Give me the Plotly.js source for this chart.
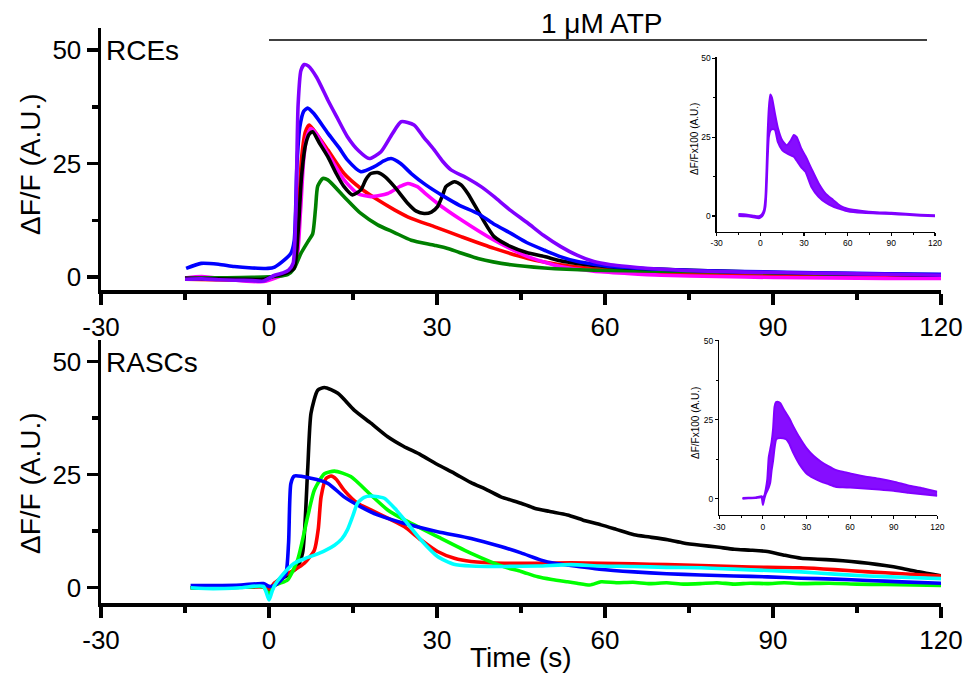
<!DOCTYPE html>
<html>
<head>
<meta charset="utf-8">
<script src="https://cdn.plot.ly/plotly-3.0.1.min.js"></script>
<style>html,body{margin:0;padding:0;background:#fff;}#chart{width:973px;height:677px;}</style>
</head>
<body>
<div id="chart"></div>
<script>
// ---------------- DATA ----------------
// Top panel (RCEs), time in s, dF/F (A.U.)
const rceBlackT = [-15,-10,-5,-1,1,3,4.5,5.2,5.8,6.5,7.2,7.8,9,10.5,12,13.4,14.9,16.4,17.3,18.2,19.4,20.8,22.4,24.8,26.3,27.7,29,30.1,31,31.6,33.1,34.3,35.5,37.9,40.2,43.2,46,49.2,52,55,60,64,70,80,90,100,110,120];
const rceBlackV = [-0.3,-0.4,-0.5,-0.5,0.2,0.8,2,10,22,29,31.5,32,29.5,26.5,22.8,19.9,18.1,19.2,21.5,22.8,23,22,19.9,16.2,14.5,14,14.3,15.5,18,19.9,21,20.3,18.4,13.3,8.9,6.7,5.4,4.5,3.6,3,2.3,2,1.7,1.3,1,0.8,0.6,0.4];

const rceRedT = [-15,-10,-5,-1,1,3,4.5,5.2,5.8,6.5,7.2,8.5,10.5,13.4,16.4,19.4,22.4,25.4,29.5,34.3,40.2,46.2,52,58,64,70,80,90,100,110,120];
const rceRedV = [-0.5,-0.6,-0.7,-0.9,0,0.8,2.5,12,26,32,33.5,31.5,28,22.8,19.5,17,14.8,12.9,11.1,8.9,6.3,4.1,2.7,1.8,1.3,1,0.6,0.4,0.2,0,-0.2];

const rceBlueT = [-14.8,-12.1,-9,-6.2,-3,-0.2,1,2.7,3.9,4.5,5,5.5,6.2,6.9,8,10.5,12.5,14,16.4,18.8,20.5,21.8,23.5,25.4,28,31.3,34,37.3,40,43.2,46,49.2,52,55.1,58,61,65,70,80,90,100,110,120];
const rceBlueV = [1.9,3.0,2.8,2.3,2.0,1.9,2.2,3.7,5.2,8,25,33,36.5,37.2,36,31.7,28.5,25.8,23.2,24.3,25.6,26.1,25,22.8,20.3,17.7,15.8,14,11.8,9.6,7.6,5.9,4.5,3.4,2.8,2.3,2,1.7,1.3,1.1,0.9,0.7,0.6];

const rceMagentaT = [-15,-12,-8,-4,-1,1,3,4.8,5.6,6.2,6.8,7.5,8.5,10.5,13.4,15.8,18.2,21.2,23.5,24.8,26.5,28,30.1,34.3,40.2,46.2,52,58,64,70,80,90,100,110,120];
const rceMagentaV = [-0.2,0.1,-0.4,-0.9,-1.0,-0.3,0.8,3,14,26,31,32.7,31.5,27.2,21.4,18.4,17.7,18.4,20,20.6,19.9,18.3,16.2,12.6,8.1,4.5,2.3,1.3,0.8,0.4,0.1,-0.1,-0.2,-0.3,-0.3];

const rceGreenT = [-15,-10,-5,-1,1,2.5,3.3,4.5,5.7,7.1,7.8,8.3,8.7,9.6,10.5,13.4,16.4,19.4,22.4,25.4,29.5,31.9,34,37.3,43.2,49.2,58,70,80,90,100,110,120];
const rceGreenV = [-0.3,-0.2,-0.1,0,0.1,0.3,0.5,1.9,5.2,8.1,9.5,15,20,21.7,21.4,17.7,14,11.5,9.8,8.1,7,6.3,5.4,4.1,2.7,2,1.5,1.3,1.1,0.9,0.7,0.6,0.5];

const rcePurpleT = [-15,-12,-9,-6,-3,-1,1,2.5,3.5,4.3,4.8,5.2,5.7,6.3,7,8.5,10.5,12,14,16,17.9,20,22,23.6,25.9,27.5,29.5,31,32.5,35.5,38,40.2,43,46.2,49,52.1,55,58,61,64,70,80,90,100,110,120];
const rcePurpleV = [-0.5,-0.4,-0.6,-0.7,-0.8,-0.9,0.4,0.9,1.5,3,15,38,45.5,46.8,46.5,44,39,35.5,30.9,27.8,26.1,27.6,31.5,34.2,33.5,31,28,25.5,23.6,21.7,19.8,17.7,14.8,11.9,9.2,6.7,4.8,3.4,2.7,2.3,1.7,1.2,1,0.8,0.6,0.4];

// Bottom panel (RASCs)
const rascBlackT = [-14,-10,-5,-1,0,1,3,5,6,6.9,7.5,8.7,9.9,12.3,15.2,18.2,21.2,24,27.1,30,33.1,36,39,41.4,45,47.4,50,53.3,56,59.3,62,65.2,68,71.2,74,77.1,80,83.1,86,89,92,95,98,101,104,107,110,112.9,116,120];
const rascBlackV = [0,0,0.1,0.2,-0.5,1,2.5,4.5,7.7,26,38.6,43.7,44.3,43,39.3,36.4,33.4,31.3,29.4,27.3,25.3,23.3,21.6,20.1,18.7,17.6,16.9,16.1,15,13.9,12.9,11.7,11.2,10.6,9.9,9.4,9,8.5,8.3,8,7.2,6.5,6.3,6.1,5.8,5.4,4.9,4.3,3.5,2.6];

const rascRedT = [-14,-10,-5,-1,0,1,2.5,4.5,6.3,8.1,8.8,9.3,10.2,11.1,12,13.4,15.8,18.2,21.2,24.2,27.1,30.1,33.1,36.1,42,48,53.9,59.3,65,71,77.1,83,89,95,101,107,113,120];
const rascRedV = [0,0,0.1,0.2,-0.3,1,2.5,3.9,5.4,8.3,13,20.1,24.2,24.7,24,21.6,18.7,17.2,15.4,13.5,10.6,8,6.5,5.8,5.4,5.4,5.5,5.4,5.3,5.1,4.9,4.7,4.5,4.4,4,3.5,3.1,2.6];

const rascGreenT = [-14,-10,-5,-1,0,1,2,3.3,5.1,6.9,8.1,9.9,11.7,14.6,18.2,21.2,24.2,30.1,36.1,42,45,48,50.5,53.3,55,57.3,59.3,62,65,68,71,74,77,80,83,86,89,92,95,100,105,110,115,120];
const rascGreenV = [0,0,0.1,0.2,-1.5,0.5,1,1.7,6.1,15.7,21.6,25.2,25.8,24.6,20.5,17.2,15,11.3,7.6,4.6,3.6,2.4,1.8,1.3,1.0,0.6,1.3,1.1,1.2,0.9,1.1,0.8,0.9,1.1,0.8,1.0,0.9,1.1,0.9,1.0,0.8,0.7,0.6,0.5];

const rascBlueT = [-14,-10,-5,-1,0,1,2,3.0,3.5,3.9,4.5,7.5,10.5,13.4,16.4,19.4,24.2,30.1,36.1,41.4,45,48.6,51,53.3,59,65.2,71,77.1,83,89,95,101,107,113,120];
const rascBlueV = [0.5,0.5,0.6,0.9,0.3,0.5,1.5,3,10,23,24.7,24.2,23.1,20.1,17.9,16.1,14.2,12.4,10.9,9.1,7.7,6.1,5.4,5,4.1,3.5,3.1,2.8,2.6,2.4,2.1,1.9,1.6,1.3,1.0];

const rascCyanT = [-14,-10,-5,-1,0,0.5,1,2.1,4.5,6.5,8.1,10,11.7,13,14,15,15.8,17,18.2,19.5,20.6,22.5,24.2,27.1,30.1,33,36.1,42,48,53.9,59.3,65,71,77.1,83,89,95,101,107,113,120];
const rascCyanV = [0,-0.2,0,0.3,-2.7,-1,0.5,2.4,5.4,6.5,7.2,8.2,9.4,10.8,12.8,16,18.7,20,20.3,20.1,19.8,17.5,15,10.6,6.9,5.2,4.8,4.7,4.8,5.1,4.8,4.7,4.5,4.4,4.1,3.8,3.5,3,2.6,2.3,2.0];

// Insets: mean +/- error envelope (upper / lower edges)
const insetTopT     = [-15,-10,-5,-1,1,2.5,3.5,4.2,5,5.8,6.8,8,10,12,15,18,21,23,25,28,31,35,40,45,50,55,60,70,80,90,100,110,120];
const insetTopUpper = [0.6,0.5,0.1,-0.1,0.5,2,6,14,26,34,38.5,37.5,32.5,28,24,22.4,24,25.7,25,21.5,19,15.1,10.4,7,5.1,3.2,2.3,1.6,1.2,1,0.7,0.4,0.2];
const insetTopLower = [0,-0.1,-0.4,-0.7,-0.2,1,3,8,18,25,27,27.5,27.3,23.5,20.9,19.9,19.2,18.8,17.5,15.5,14,9.3,6.1,4.2,3,2.2,1.5,1,0.8,0.6,0.4,0.1,-0.1];

const insetBotT     = [-14,-10,-5,-1,0,1,2,3,4,5,6,7,8,9,10,12,14,16,18,21,25,30,35,40,45,50,55,60,70,80,90,100,110,120];
const insetBotUpper = [0.2,0.3,0.4,0.8,0.5,1,3,6,13,15.5,18,22,29,30.5,30.7,30.2,28.5,27,25.5,22.8,19.5,16,13.5,11.7,10.3,9.1,8.5,8,7,6.3,5.4,4.2,3.3,2.2];
const insetBotLower = [0,0.1,0.2,0.4,-2,0,1.5,2.5,3.5,5,9,12,16,18.6,19.1,19.2,19.1,18.8,17.5,14.4,11,8,6.5,5.4,4.6,3.8,3.6,3.5,3.2,2.9,2.5,1.9,1.4,0.9];

const xTickVals = [-30,0,30,60,90,120];
const yTickVals = [0,25,50];
const atpWindow = [0, 117.5];

// ---------------- LAYOUT HELPERS ----------------
const PW = 973, PH = 677;
const FONT = 'Liberation Sans, Arial, Helvetica, sans-serif';
const PURPLE = '#8000FF';
function dx(a,b){ return [a/PW, b/PW]; }
function dy(top,bottom){ return [(PH-bottom)/PH, (PH-top)/PH]; }
function px(x){ return x/PW; }
function py(y){ return 1 - y/PH; }

function mainAxis(domain, range, anchor, vals, minorD, size){
  return {
    domain: domain, range: range, anchor: anchor, autorange: false,
    showline: true, linecolor: '#000', linewidth: size.lw,
    ticks: 'outside', ticklen: size.tl, tickwidth: size.tw, tickcolor: '#000',
    tickvals: vals, ticktext: vals.map(String),
    minor: {ticks: 'outside', ticklen: size.ml, tickwidth: size.tw, tickcolor: '#000', dtick: minorD, tick0: 0, showgrid: false},
    showgrid: false, zeroline: false,
    tickfont: {family: FONT, size: size.fs, color: '#000'},
    ticklabelstandoff: size.so,
    fixedrange: true
  };
}
const MAIN = {lw: 3.5, tl: 11, tw: 3.5, ml: 6, fs: 26, so: 0};
const INS  = {lw: 1.3, tl: 3, tw: 1.1, ml: 2, fs: 8.5, so: 0};

function line(x, y, color, xa, ya, w){
  return {x: x, y: y, mode: 'lines', type: 'scatter', xaxis: xa, yaxis: ya,
          line: {color: color, width: w || 3.6, shape: 'spline', smoothing: 0.6}, hoverinfo: 'skip', showlegend: false};
}
function band(x, lo, hi, xa, ya){
  return [
    {x: x, y: lo, mode: 'lines', type: 'scatter', xaxis: xa, yaxis: ya,
     line: {color: PURPLE, width: 2, shape: 'spline', smoothing: 0.5},
     hoverinfo: 'skip', showlegend: false},
    {x: x, y: hi, mode: 'lines', type: 'scatter', xaxis: xa, yaxis: ya, fill: 'tonexty', fillcolor: 'rgba(128,0,255,0.95)',
     line: {color: PURPLE, width: 2, shape: 'spline', smoothing: 0.5},
     hoverinfo: 'skip', showlegend: false}
  ];
}

const data = [
  line(rceRedT, rceRedV, '#FF0000', 'x', 'y'),
  line(rceMagentaT, rceMagentaV, '#FF00FF', 'x', 'y'),
  line(rceGreenT, rceGreenV, '#008000', 'x', 'y'),
  line(rceBlackT, rceBlackV, '#000000', 'x', 'y'),
  line(rceBlueT, rceBlueV, '#0000FF', 'x', 'y'),
  line(rcePurpleT, rcePurpleV, PURPLE, 'x', 'y'),
  line(rascBlackT, rascBlackV, '#000000', 'x2', 'y2'),
  line(rascRedT, rascRedV, '#FF0000', 'x2', 'y2'),
  line(rascGreenT, rascGreenV, '#00FF00', 'x2', 'y2'),
  line(rascBlueT, rascBlueV, '#0000FF', 'x2', 'y2'),
  line(rascCyanT, rascCyanV, '#00FFFF', 'x2', 'y2'),
  ...band(insetTopT, insetTopLower, insetTopUpper, 'x3', 'y3'),
  ...band(insetBotT, insetBotLower, insetBotUpper, 'x4', 'y4')
];

const xr = [-30, 120];
const layout = {
  width: PW, height: PH,
  margin: {l: 0, r: 0, t: 0, b: 0, pad: 0},
  paper_bgcolor: '#fff', plot_bgcolor: 'rgba(0,0,0,0)',
  showlegend: false,
  xaxis:  mainAxis(dx(101, 941), xr, 'y',  xTickVals, 15, MAIN),
  yaxis:  mainAxis(dy(28, 290), [-2.86, 54.85], 'x', yTickVals, 12.5, MAIN),
  xaxis2: mainAxis(dx(101, 941), xr, 'y2', xTickVals, 15, MAIN),
  yaxis2: mainAxis(dy(340, 603.3), [-3.45, 54.8], 'x2', yTickVals, 12.5, MAIN),
  xaxis3: mainAxis(dx(716.7, 935), xr, 'y3', xTickVals, 15, INS),
  yaxis3: mainAxis(dy(56.7, 231.7), [-4.98, 50.5], 'x3', yTickVals, 12.5, INS),
  xaxis4: mainAxis(dx(719.3, 937.3), xr, 'y4', xTickVals, 15, INS),
  yaxis4: mainAxis(dy(340, 515), [-5.16, 50.2], 'x4', yTickVals, 12.5, INS),
  shapes: [
    {type: 'line', xref: 'x', yref: 'paper', x0: atpWindow[0], x1: atpWindow[1], y0: py(40), y1: py(40),
     line: {color: '#000', width: 1.5}}
  ],
  annotations: [
    {text: '1 \u03BCM ATP', xref: 'paper', yref: 'paper', x: px(601), y: py(23), xanchor: 'center', yanchor: 'middle', showarrow: false,
     font: {family: FONT, size: 28, color: '#000'}},
    {text: 'RCEs', xref: 'paper', yref: 'paper', x: px(104), y: py(50), xanchor: 'left', yanchor: 'middle', showarrow: false,
     font: {family: FONT, size: 28, color: '#000'}},
    {text: 'RASCs', xref: 'paper', yref: 'paper', x: px(104), y: py(362), xanchor: 'left', yanchor: 'middle', showarrow: false,
     font: {family: FONT, size: 28, color: '#000'}},
    {text: '\u0394F/F (A.U.)', xref: 'paper', yref: 'paper', x: px(30), y: py(164), xanchor: 'center', yanchor: 'middle', textangle: -90, showarrow: false,
     font: {family: FONT, size: 28, color: '#000'}},
    {text: '\u0394F/F (A.U.)', xref: 'paper', yref: 'paper', x: px(30), y: py(483), xanchor: 'center', yanchor: 'middle', textangle: -90, showarrow: false,
     font: {family: FONT, size: 28, color: '#000'}},
    {text: 'Time (s)', xref: 'paper', yref: 'paper', x: px(521), y: py(657), xanchor: 'center', yanchor: 'middle', showarrow: false,
     font: {family: FONT, size: 28, color: '#000'}},
    {text: '\u0394F/Fx100 (A.U.)', xref: 'paper', yref: 'paper', x: px(694), y: py(139), xanchor: 'center', yanchor: 'middle', textangle: -90, showarrow: false,
     font: {family: FONT, size: 10, color: '#000'}},
    {text: '\u0394F/Fx100 (A.U.)', xref: 'paper', yref: 'paper', x: px(695), y: py(423), xanchor: 'center', yanchor: 'middle', textangle: -90, showarrow: false,
     font: {family: FONT, size: 10, color: '#000'}}
  ]
};

Plotly.newPlot('chart', data, layout, {staticPlot: true, displayModeBar: false});
</script>
</body>
</html>
